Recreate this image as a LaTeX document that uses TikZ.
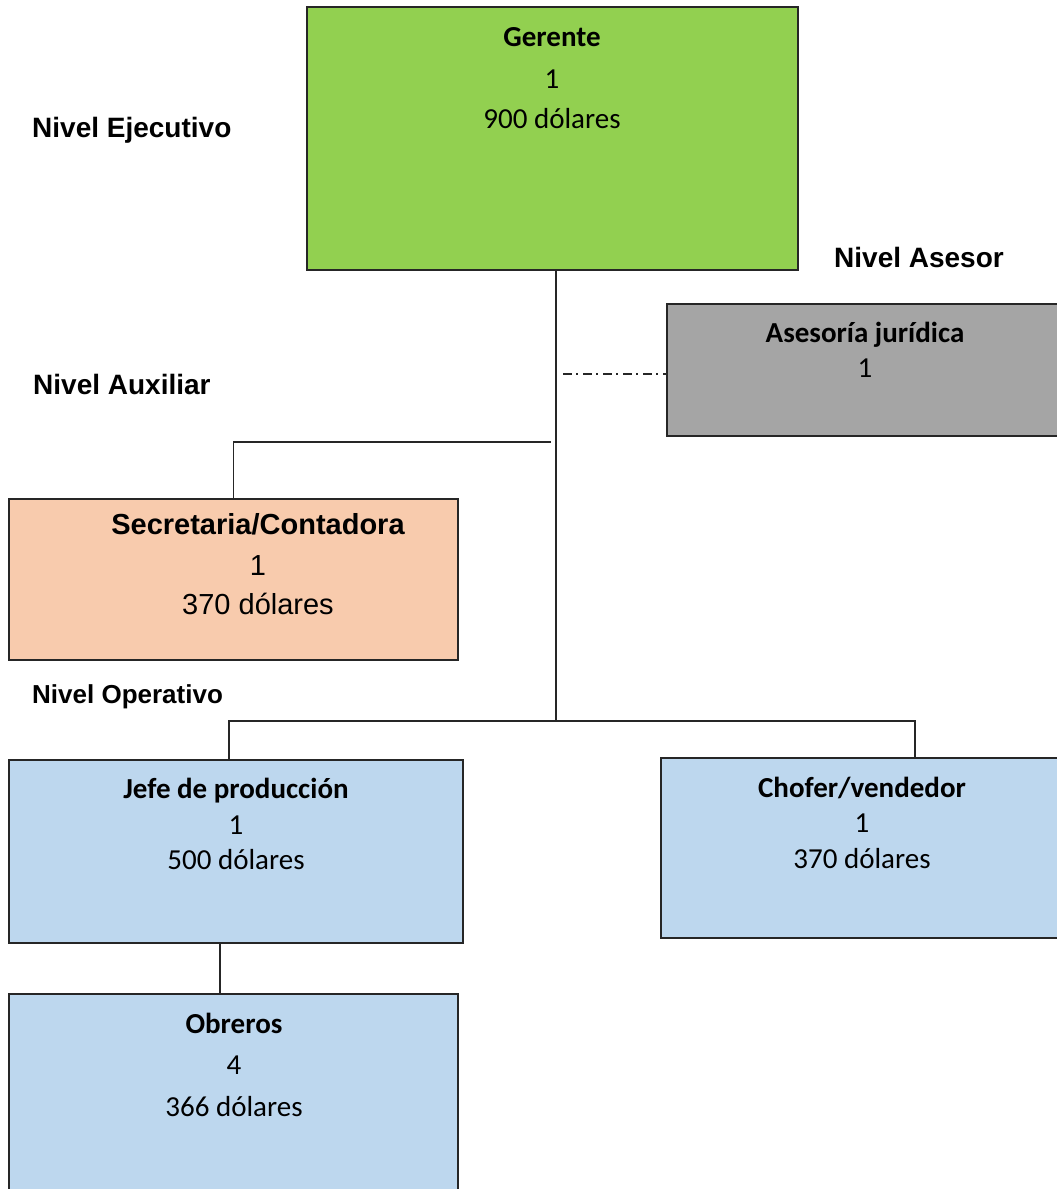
\documentclass[tikz,border=0pt]{standalone}
\usepackage{fontspec}
\setmainfont{Carlito}
\newfontfamily\arialfont{Liberation Sans}
\definecolor{gerfill}{HTML}{92D050}
\definecolor{secfill}{HTML}{F8CBAD}
\definecolor{asefill}{HTML}{A5A5A5}
\definecolor{opfill}{HTML}{BDD7EE}
\begin{document}
\begin{tikzpicture}[x=1pt,y=-1pt,
  box/.style={draw=black!85, line width=1.3pt, rectangle, inner sep=0pt, outer sep=0pt, anchor=north west},
  line/.style={draw=black!85, line width=1.1pt},
  dashdot/.style={line, dash pattern=on 9pt off 4pt on 2pt off 5pt},
  txt/.style={font=\fontsize{29}{34}\selectfont, anchor=base, inner sep=0pt},
  btxt/.style={txt, font=\fontsize{29}{34}\selectfont\bfseries},
  atxt/.style={anchor=base, inner sep=0pt, font=\arialfont\fontsize{29}{34}\selectfont},
  abtxt/.style={anchor=base, inner sep=0pt, font=\arialfont\fontsize{29}{34}\selectfont\bfseries},
  level/.style={anchor=base west, inner sep=0pt, font=\arialfont\fontsize{28}{34}\selectfont\bfseries}]
\clip (0,0) rectangle (1057,1189);
\fill[white] (0,0) rectangle (1057,1189);

% boxes
\node[box, fill=gerfill, minimum width=491pt, minimum height=263pt] (ger) at (307,7) {};
\node[box, fill=asefill, minimum width=420pt, minimum height=132pt] (ase) at (667,304) {};
\node[box, fill=secfill, minimum width=449pt, minimum height=161pt] (sec) at (9,499) {};
\node[box, fill=opfill, minimum width=454pt, minimum height=183pt] (jefe) at (9,760) {};
\node[box, fill=opfill, minimum width=420pt, minimum height=180pt] (cho) at (661,758) {};
\node[box, fill=opfill, minimum width=449pt, minimum height=230pt] (obr) at (9,994) {};

% box texts
\node[btxt] (gerA) at (552,46) {Gerente};
\node[txt]  (gerB) at (552,88) {1};
\node[txt]  (gerC) at (552,128) {900 dólares};

\node[btxt] (aseA) at (865,342) {Asesoría jurídica};
\node[txt]  (aseB) at (865,377) {1};

\node[abtxt] (secA) at (258,534) {Secretaria/Contadora};
\node[atxt]  (secB) at (258,575) {1};
\node[atxt]  (secC) at (258,614) {370 dólares};

\node[btxt] (jefeA) at (236,798) {Jefe de producción};
\node[txt]  (jefeB) at (236,834) {1};
\node[txt]  (jefeC) at (236,869) {500 dólares};

\node[btxt] (choA) at (862,797) {Chofer/vendedor};
\node[txt]  (choB) at (862,832) {1};
\node[txt]  (choC) at (862,868) {370 dólares};

\node[btxt] (obrA) at (234,1033) {Obreros};
\node[txt]  (obrB) at (234,1074) {4};
\node[txt]  (obrC) at (234,1116) {366 dólares};

% level labels
\node[level] (lvEje) at (32,137) {Nivel Ejecutivo};
\node[level] (lvAse) at (834,267) {Nivel Asesor};
\node[level] (lvAux) at (33,394) {Nivel Auxiliar};
\node[level, font=\arialfont\fontsize{26}{32}\selectfont\bfseries] (lvOpe) at (32,703) {Nivel Operativo};

% connectors
\coordinate (trunk) at (556,721);
\coordinate (auxend) at (551,442);
\coordinate (advend) at (563,374);
\coordinate (opL) at (229,721);
\coordinate (opR) at (915,721);
\coordinate (obx) at (220,0);

\draw[line] (ger.south -| trunk) -- (trunk);
\draw[line] (auxend) -- (auxend -| sec.north) -- (sec.north);
\draw[dashdot] (advend) -- (advend -| ase.west);
\draw[line] (jefe.north -| opL) -- (opL) -- (opR) -- (cho.north -| opR);
\draw[line] (jefe.south -| obx) -- (obr.north -| obx);
\end{tikzpicture}
\end{document}
